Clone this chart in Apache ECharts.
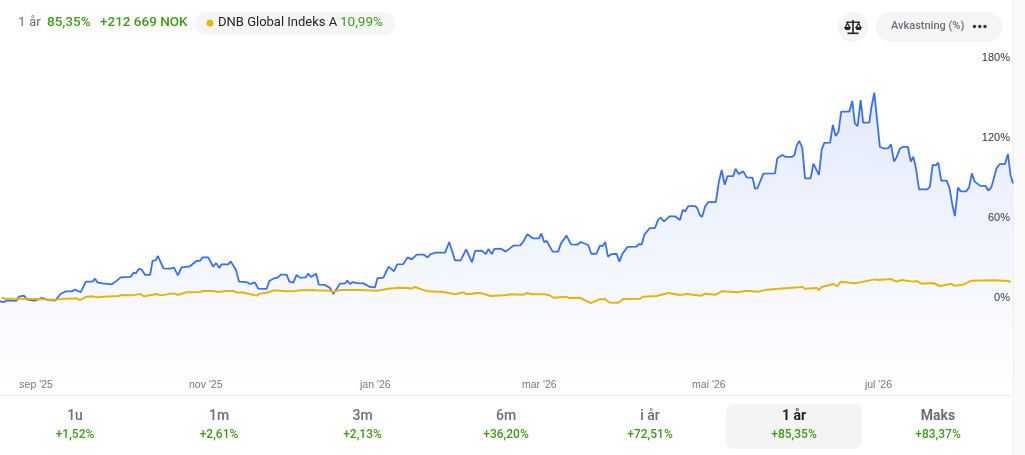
<!DOCTYPE html>
<html>
<head>
<meta charset="utf-8">
<style>html,body{margin:0;padding:0;background:#fff}#c{width:1025px;height:455px}</style>
<script src="https://cdn.jsdelivr.net/npm/echarts@6/dist/echarts.min.js"></script>
</head>
<body>
<div id="c"></div>
<script>
// Horizontal position: days since 19 Aug 2025. Values: return in percent.
const tickDays = [13, 74, 135, 194, 255, 316];
const tickLabels = ["sep '25", "nov '25", "jan '26", "mar '26", "mai '26", "jul '26"];
const yTicks = [0, 60, 120, 180];

const fundDays = [0,1.4,2.6,5.8,6.8,8.6,9.8,12.6,15,16.8,19.8,21.8,23.7,25.8,27,29,30.9,33.3,34.2,35,36.9,37.4,40.2,41.7,43.4,47,48,48.9,49.9,51,52.2,54,54.9,56,56.8,58.8,61.2,62.6,64,65.3,68.3,70.7,71.9,72.9,74.9,76.7,77.7,78.9,79.7,82.1,83,84.9,86,88.7,89.9,91.7,92.9,95.9,96.9,98.6,99.8,101,103.1,104.1,105.5,106.7,107.9,110,110.8,111.9,113.7,114.7,116.9,118.7,119.9,122.3,124.1,124.9,125.9,126.9,128.5,130.7,133.1,134.9,135.8,137.9,139.8,141.7,142.9,145.1,146.6,148.1,149.9,152.5,153.8,154.9,156.8,160.1,161.6,163.7,165.7,167.7,169.8,170.9,173.3,173.9,174.8,175.7,176.9,177.8,180.2,181.9,184.7,187.1,188,189.7,191.6,193.9,194.7,195.8,196.6,198.8,200.8,201.8,203.8,205.4,207.7,208.9,211.6,212.7,214.6,215.8,216.8,217.7,218.7,220,221.8,222.8,224,225.7,228.8,229.9,230.8,231.8,233.8,235.6,236.8,237.6,238.9,240.8,242.8,244.6,245.6,246.5,247.6,250,250.8,251.8,252.6,253.6,254.8,257.5,258.6,259.6,260.7,261.7,263.8,264.6,265.7,267.4,268.6,270.7,271.6,272.5,274.6,278.8,279.6,281.4,282.7,284.8,285.8,286.6,287.5,288.6,289.6,291.6,292.6,294.6,295.6,296.5,298.6,299.6,300.6,301.6,302.6,305.5,306.6,307.5,308.5,309.6,310.5,312.7,313.5,314.5,316.5,317.7,319.5,320.5,321.6,322.5,323.7,324.7,326.6,327.6,328.5,329.5,330.6,333.6,334.5,335.5,336.6,337.5,338.6,340.5,341.5,342.6,343.5,344.6,345.6,347.5,348.6,349.6,350.6,352.5,354.6,355.5,356.6,358.5,359.6,361.5,362.6,363.5,364.4];
const fundValues = [-2.9,-3.4,-2.2,-2.6,0.6,1.4,-1.6,-2.4,-0.2,-1.6,-2.4,2.6,4.6,4.6,5.9,3.9,11.9,11.9,14.1,11.4,10.6,9.4,9.9,12.1,15.1,15.4,18.6,18.1,21.4,20.9,16.9,16.9,27.6,27.9,31.1,21.9,21.6,22.4,16.6,22.6,23.4,27.4,27.4,30.1,30.1,23.1,25.9,22.1,24.9,24.9,27.1,20.6,11.9,11.6,10.1,11.4,6.6,6.4,12.4,14.4,14.9,17.1,17.1,11.9,11.1,16.9,14.9,15.1,17.9,15.4,17.9,9.6,9.4,7.1,2.6,10.4,10.6,12.6,10.1,11.6,10.8,10.6,7.9,7.6,14.6,14.9,23.1,19.6,24.9,25.1,30.1,28.6,32.1,32.1,30.1,32.6,33.6,33.6,41.6,27.8,27.8,36.1,26.4,34.9,35.1,36.6,32.6,36.4,32.6,36.4,36.6,34.4,38.9,39.1,41.1,47.4,44.4,44.4,47.9,41.4,42.6,34.4,34.4,40.6,46.4,39.9,39.6,41.6,39.4,32.8,32.8,38.9,38.6,41.6,30.6,32.6,32.8,26.9,33.1,37.9,38.1,40.1,39.6,47.1,52.1,52.1,58.6,59.9,57.1,60.9,60.9,58.1,65.6,64.6,68.6,68.6,67.1,61.6,60.6,68.1,71.6,71.6,86.9,95.6,84.6,91.1,91.1,96.6,92.6,94.6,90.1,89.9,81.6,82.1,92.9,93.1,104.4,106.9,105.4,105.4,106.9,113.9,117.4,112.4,89.4,89.4,100.4,91.9,111.1,115.9,116.1,129.4,121.1,124.1,139.4,139.4,147.4,130.6,128.6,148.1,131.1,131.1,143.1,153.6,113.1,111.9,111.9,114.9,101.9,105.1,111.6,112.9,112.9,101.9,105.6,96.9,81.1,81.1,83.1,99.4,99.1,101.1,87.6,87.6,82.6,69.4,61.1,82.4,79.6,79.6,82.6,93.1,86.9,83.9,83.6,80.1,82.6,96.9,100.1,100.1,107.6,91.9,85.6];

const indexDays = [0.6,1.8,6,9.6,15.6,20.4,21.8,27.6,28.8,30.9,33,34.8,37.2,42.6,43.8,47.4,50.4,51.9,56.4,57.8,62.4,64.1,67.1,71.9,72.9,76.7,78.5,81.5,83.9,85.4,86.9,92.3,93.5,95.9,98.6,102.5,106.1,107.9,112.1,113.3,118.7,119.7,122.3,129.5,135.5,139.7,143.3,146.9,147.8,149.3,151.7,153.7,159.5,163.7,166.7,167.6,169.7,170.9,173.3,176.6,182.3,183.5,188.3,189.7,191.2,196,197.8,199,203.8,204.8,208.6,212.5,215.6,217.6,219.2,222.4,224.2,230.2,231.4,236.2,240.4,244.6,247,252.4,253.6,257.5,259.6,265.6,268.3,272.8,275.8,287.2,288.6,289.6,293.8,294.6,295.6,299.8,301.2,302.5,307.5,314.7,315.9,320.4,322.5,324.3,328.5,329.7,331.5,335.7,338.1,342.3,343.2,346.5,349.3,357.9,358.5,362.7,363.5];
const indexValues = [-0.2,-0.9,-0.9,-0.9,-1.4,-1.6,-1.2,-0.6,-1.9,0.4,0.9,0.1,0.6,1.1,1.9,1.6,2.6,0.9,2.6,1.6,3.1,2.1,3.9,4.1,4.9,4.9,4.1,4.9,4.9,3.6,3.9,1.4,2.9,3.6,5.4,4.6,4.9,5.4,5.6,5.4,5.1,4.1,5.6,5.6,5.1,6.6,7.4,7.1,6.6,7.9,6.1,4.6,4.1,2.4,3.9,2.6,2.6,3.4,3.1,1.1,1.9,2.4,2.1,3.4,2.4,2.4,1.6,-0.2,0.6,-0.4,-0.2,-4.2,-1.4,-1.2,-3.7,-3.9,-1.2,-0.9,0.6,1.1,3.4,1.9,2.6,1.4,2.9,2.1,4.6,3.9,5.1,4.4,5.9,7.6,8.1,6.6,7.1,5.4,7.9,10.1,8.6,11.9,10.6,13.6,13.1,13.9,11.9,13.1,11.9,12.4,10.4,10.9,8.6,10.3,8.9,9.6,12.6,12.9,13.8,12.4,11.4];

const periodLabels = ["1u", "1m", "3m", "6m", "i år", "1 år", "Maks"];
const periodReturns = ["+1,52%", "+2,61%", "+2,13%", "+36,20%", "+72,51%", "+85,35%", "+83,37%"];

const FONT = 'Roboto, "Liberation Sans", Arial, sans-serif';
const AXFONT = '"Liberation Sans", Arial, sans-serif';
const GREEN = '#3f9a16', GRAY = '#6e6e78', DARK = '#1f1f24';
const t = (x, y, text, fill, size, weight, align) => ({
  type: 'text', x, y, silent: true, z: 10,
  style: { text, fill, font: (weight || 'normal') + ' ' + size + 'px ' + FONT, align: align || 'left', verticalAlign: 'middle' }
});
const box = (x, y, w, h, r, fill, z) => ({ type: 'rect', silent: true, z: z === undefined ? 5 : z, shape: { x, y, width: w, height: h, r }, style: { fill } });
const dot = (cx, cy, r, fill, z) => ({ type: 'circle', silent: true, z: z || 6, shape: { cx, cy, r }, style: { fill } });
const poly = (points) => ({ type: 'polygon', silent: true, z: 6, shape: { points }, style: { fill: '#222' } });

const els = [
  box(1013, 0, 12, 455, 0, '#fafafa', 1),
  box(1013, 0, 1, 455, 0, '#f0f0f0', 1),
  box(0, 395, 1013, 1, 0, '#eeeeee', 2),
  t(18, 23, '1 år', GRAY, 13.5),
  t(47, 23, '85,35%', GREEN, 13.5, 500),
  t(100, 23, '+212 669 NOK', GREEN, 13.5, 500),
  box(195, 12, 200, 23, 11.5, '#f5f5f5'),
  dot(210, 23, 3.5, '#e6b800'),
  t(218, 23, 'DNB Global Indeks A', DARK, 13),
  t(340, 23, '10,99%', GREEN, 13.5),
  dot(853, 27, 15, '#f5f5f5', 5),
  // scales icon
  box(852.2, 20, 1.6, 13, 0, '#222', 6),
  box(847.5, 32.5, 11, 1.6, 0, '#222', 6),
  box(846, 21.5, 14, 1.4, 0, '#222', 6),
  poly([[844, 27], [851, 27], [849.5, 30], [845.5, 30]]),
  poly([[855, 27], [862, 27], [860.5, 30], [856.5, 30]]),
  poly([[847.5, 22], [844.5, 27.5], [846, 27.5], [847.5, 24.5], [849, 27.5], [850.5, 27.5]]),
  poly([[858.5, 22], [855.5, 27.5], [857, 27.5], [858.5, 24.5], [860, 27.5], [861.5, 27.5]]),
  box(876, 12, 126, 30, 15, '#f5f5f5'),
  t(891, 26.5, 'Avkastning (%)', GRAY, 11, 500),
  dot(974.5, 26.5, 1.7, '#333'), dot(979.8, 26.5, 1.7, '#333'), dot(985, 26.5, 1.7, '#333'),
  box(726, 404, 136, 45, 8, '#f4f4f4')
];
const tabCenters = [75, 219, 362.5, 506, 650, 794, 938];
periodLabels.forEach((lab, i) => {
  const active = lab === '1 år';
  els.push(t(tabCenters[i], 416.5, lab, active ? DARK : GRAY, 14, active || lab === 'Maks' ? 'bold' : 500, 'center'));
  els.push(t(tabCenters[i], 435, periodReturns[i], GREEN, 12, 500, 'center'));
});

const chart = echarts.init(document.getElementById('c'), null, { renderer: 'canvas' });
chart.setOption({
  animation: false,
  backgroundColor: '#ffffff',
  grid: { left: 0, right: 12, top: 57.5, bottom: 60 },
  xAxis: {
    type: 'value', min: 0, max: 364.4,
    axisLine: { show: false }, axisTick: { show: false }, splitLine: { show: false },
    axisLabel: {
      inside: true, customValues: tickDays, margin: 4, color: '#77777f', fontSize: 10.5, fontFamily: AXFONT,
      formatter: v => tickLabels[tickDays.indexOf(v)]
    }
  },
  yAxis: {
    type: 'value', min: -73.125, max: 180, position: 'right',
    axisLine: { show: false }, axisTick: { show: false }, splitLine: { show: false },
    axisLabel: {
      inside: true, customValues: yTicks, margin: 3, color: '#333338', fontSize: 11, fontFamily: AXFONT,
      formatter: v => v + '%'
    }
  },
  series: [
    {
      name: 'Fond', type: 'line', showSymbol: false, symbol: 'none', z: 2,
      data: fundDays.map((d, i) => [d, fundValues[i]]),
      lineStyle: { color: '#3a6ff5', width: 1.8 },
      areaStyle: {
        origin: 'start',
        color: new echarts.graphic.LinearGradient(0, 0, 0, 1, [
          { offset: 0, color: 'rgba(58,111,240,0.2)' },
          { offset: 1, color: 'rgba(58,111,240,0.0)' }
        ])
      }
    },
    {
      name: 'DNB Global Indeks A', type: 'line', showSymbol: false, symbol: 'none', z: 3,
      data: indexDays.map((d, i) => [d, indexValues[i]]),
      lineStyle: { color: '#e4b50f', width: 2 }
    }
  ],
  graphic: els
});
</script>
</body>
</html>
